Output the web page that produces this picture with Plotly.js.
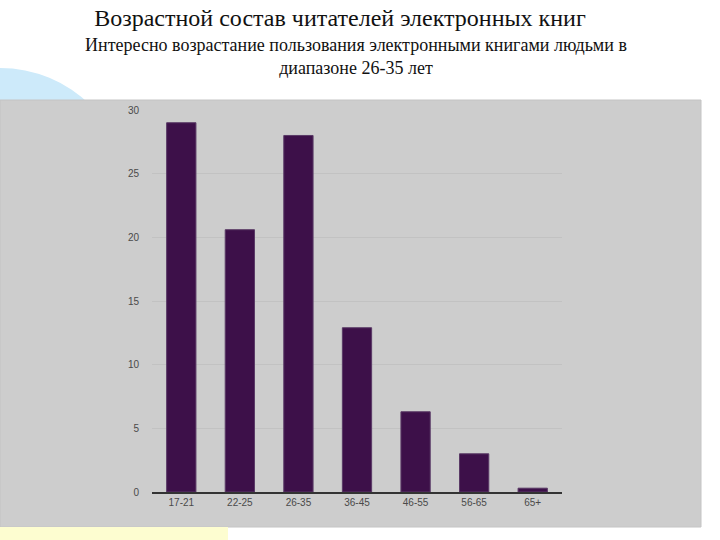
<!DOCTYPE html>
<html>
<head>
<meta charset="utf-8">
<script src="https://cdn.plot.ly/plotly-3.0.1.min.js"></script>
<style>
  html, body { margin: 0; padding: 0; background: #fff; }
  #chart { width: 720px; height: 540px; }
</style>
</head>
<body>
<div id="chart"></div>
<script>
// Age groups of e-book readers, values
const ageGroups = ['17-21', '22-25', '26-35', '36-45', '46-55', '56-65', '65+'];
const readers = [29, 20.6, 28, 12.9, 6.3, 3, 0.3];
const yTicks = [0, 5, 10, 15, 20, 25, 30];

const titleText = 'Возрастной состав читателей электронных книг';
const subtitleText = 'Интересно возрастание пользования электронными книгами людьми в<br>диапазоне 26-35 лет';

const W = 720, H = 540;
const margin = { l: 152, r: 158, t: 110, b: 48 };
const pw = W - margin.l - margin.r;
const ph = H - margin.t - margin.b;

// pixel -> paper helpers for the slide decorations
const px = x => (x - margin.l) / pw;
const py = y => (H - margin.b - y) / ph;

const serif = 'Liberation Serif';

const trace = {
    type: 'bar',
    x: ageGroups,
    y: readers,
    width: 0.5,
    marker: { color: '#3d1049', line: { color: '#5a3a66', width: 1 } },
    hoverinfo: 'x+y',
};

const layout = {
    width: W,
    height: H,
    margin,
    paper_bgcolor: '#ffffff',
    plot_bgcolor: 'rgba(0,0,0,0)',
    font: { family: 'Liberation Sans, Arial, sans-serif', color: '#555', size: 10 },
    showlegend: false,
    title: {
        text: titleText,
        font: { family: serif, size: 24, color: '#111' },
        x: px(340), xanchor: 'center', xref: 'paper',
        y: 1 - 18 / H, yanchor: 'middle', yref: 'container',
    },
    xaxis: {
        range: [-0.5, 6.5],
        showline: true, linecolor: '#333', linewidth: 1.5,
        showgrid: false, zeroline: false,
        ticks: '',
        tickfont: { size: 10, color: '#4a4a4a' },
        fixedrange: true,
    },
    yaxis: {
        range: [0, 30],
        tickvals: yTicks,
        showgrid: true, gridcolor: '#c2c2c2', gridwidth: 1,
        zeroline: false, showline: false,
        ticks: '',
        ticklabelstandoff: 12,
        tickfont: { size: 10, color: '#4a4a4a' },
        fixedrange: true,
    },
    shapes: [
        // light-blue disc peeking from behind the panel
        { type: 'circle', xref: 'paper', yref: 'paper', layer: 'below',
          x0: px(-129), x1: px(129), y0: py(197 + 129), y1: py(197 - 129),
          fillcolor: '#cdeafa', line: { width: 0 } },
        // grey slide panel
        { type: 'rect', xref: 'paper', yref: 'paper', layer: 'below',
          x0: px(0), x1: px(701), y0: py(527), y1: py(100),
          fillcolor: '#cdcdcd', line: { color: '#c4c4c4', width: 1 } },
        // pale yellow strip at the bottom
        { type: 'rect', xref: 'paper', yref: 'paper', layer: 'below',
          x0: px(0), x1: px(228), y0: py(541), y1: py(527),
          fillcolor: '#fdfdd0', line: { width: 0 } },
    ],
    annotations: [
        { text: subtitleText, xref: 'paper', yref: 'paper',
          x: px(356), y: py(56), xanchor: 'center', yanchor: 'middle',
          showarrow: false, align: 'center',
          font: { family: serif, size: 18, color: '#111' } },
    ],
};

Plotly.newPlot('chart', [trace], layout, { displayModeBar: false, staticPlot: true });
</script>
</body>
</html>
